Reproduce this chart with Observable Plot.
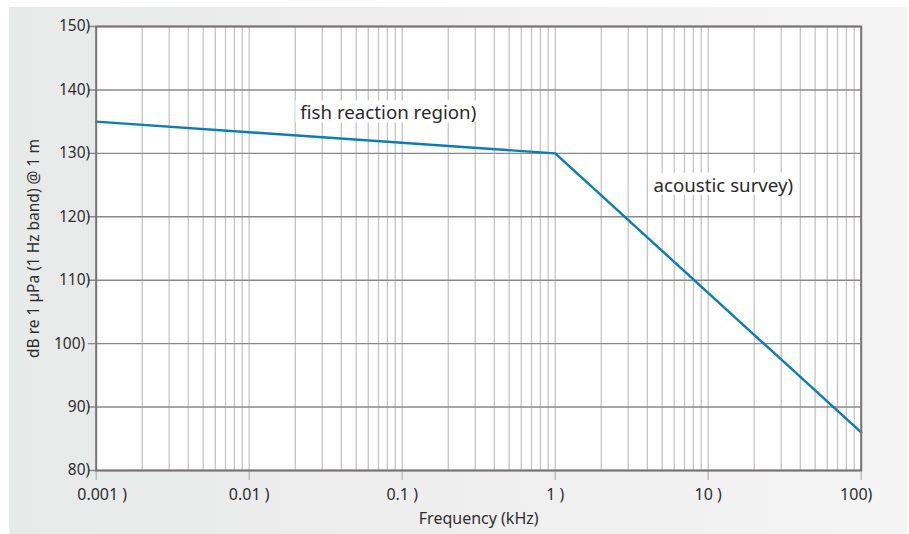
<!DOCTYPE html>
<html>
<head>
<meta charset="utf-8">
<script src="https://cdn.jsdelivr.net/npm/d3@7"></script>
<script src="https://cdn.jsdelivr.net/npm/@observablehq/plot@0.6"></script>
<style>
  html, body { margin: 0; padding: 0; background: #ffffff; }
  #wrap { position: relative; width: 909px; height: 534px; overflow: hidden; }
  #panel { position: absolute; left: 9px; top: 7px; width: 898px; height: 527px;
           background: linear-gradient(to right, #e8e9e9 0%, #eeeeee 45%, #f4f4f4 100%); }
  #chart { position: absolute; left: 0; top: 0; }
</style>
</head>
<body>
<div id="wrap"><div id="panel"></div><div id="chart"></div></div>
<script>
// ---- data ----
const freqTicks = [0.001, 0.01, 0.1, 1, 10, 100];
const freqTickLabels = ["0.001 )", "0.01 )", "0.1 )", "1 )", "10 )", "100)"];
const levelTicks = [80, 90, 100, 110, 120, 130, 140, 150];
const levelTickLabels = ["80)", "90)", "100)", "110)", "120)", "130)", "140)", "150)"];
const curveFreq = [0.001, 1, 100];
const curveLevel = [135, 130, 86];
const annoText = ["fish reaction region)", "acoustic survey)"];
const annoFreq = [0.0216, 4.39];
const annoLevel = [136.3, 124.9];
const xTitle = "Frequency (kHz)";
const yTitle = "dB re 1 µPa (1 Hz band) @ 1 m";

// minor grid positions (1..9 per decade)
const minorTicks = freqTicks.slice(0, -1)
  .flatMap(d => d3.range(1, 10).map(k => d * k))
  .concat([freqTicks[freqTicks.length - 1]]);

const curve = curveFreq.map((f, i) => ({f, v: curveLevel[i]}));
const lastIdx = freqTickLabels.length - 1;

const svg = Plot.plot({
  width: 909,
  height: 534,
  marginLeft: 95.7,
  marginRight: 48.3,
  marginTop: 26,
  marginBottom: 64,
  style: {background: "transparent", fontFamily: "'Noto Sans', sans-serif", overflow: "visible"},
  x: {type: "log", domain: [0.001, 100], axis: null},
  y: {type: "linear", domain: [80, 150], axis: null},
  marks: [
    Plot.frame({fill: "white", stroke: null}),
    Plot.ruleX(minorTicks, {x: d => d, stroke: "#c4c4c4", strokeWidth: 1.3}),
    Plot.ruleY(levelTicks, {y: d => d, insetLeft: -8, stroke: "#8c8887", strokeWidth: 1.4}),
    Plot.ruleX(freqTicks, {x: d => d, y1: 80, y2: 80, insetBottom: -10, stroke: "#b4b4b4", strokeWidth: 1.3}),
    Plot.text(annoText, {
      x: (d, i) => annoFreq[i], y: (d, i) => annoLevel[i], text: d => d,
      textAnchor: "start", lineAnchor: "middle", fontSize: 18.7, fill: "#2a2a2a"
    }),
    Plot.line(curve, {x: "f", y: "v", stroke: "#0b7db5", strokeWidth: 2.4}),
    Plot.frame({stroke: "#787372", strokeWidth: 2}),
    Plot.text(levelTicks, {
      y: d => d, frameAnchor: "left", dx: -6, textAnchor: "end", lineAnchor: "middle",
      text: (d, i) => levelTickLabels[i], fontSize: 15.5, fill: "#2e2e2e"
    }),
    Plot.text(freqTicks, {
      x: d => d, frameAnchor: "bottom", dy: 24, textAnchor: "middle", lineAnchor: "middle",
      text: (d, i) => freqTickLabels[i], fontSize: 16, fill: "#2e2e2e"
    }),
    Plot.text([xTitle], {frameAnchor: "bottom", dy: 48, textAnchor: "middle", lineAnchor: "middle",
      text: d => d, fontSize: 16, fill: "#2e2e2e"}),
    Plot.text([yTitle], {frameAnchor: "left", dx: -62, rotate: -90, textAnchor: "middle", lineAnchor: "middle",
      text: d => d, fontSize: 15.5, fill: "#2e2e2e"})
  ]
});

document.getElementById("chart").appendChild(svg);

// nudge the outermost x tick labels inward, as in the reference
svg.querySelectorAll("text").forEach(t => {
  const s = t.textContent;
  if (s === freqTickLabels[0]) t.setAttribute("dx", "6");
  if (s === freqTickLabels[lastIdx]) t.setAttribute("dx", "-5");
});

// white boxes behind the annotation labels
svg.querySelectorAll("text").forEach(t => {
  if (!annoText.includes(t.textContent)) return;
  const b = t.getBBox();
  const r = document.createElementNS("http://www.w3.org/2000/svg", "rect");
  r.setAttribute("x", b.x - 5);
  r.setAttribute("y", b.y + 1);
  r.setAttribute("width", b.width + 8);
  r.setAttribute("height", b.height - 3);
  r.setAttribute("fill", "white");
  r.setAttribute("stroke", "none");
  const tr = t.getAttribute("transform");
  if (tr) r.setAttribute("transform", tr);
  t.parentNode.insertBefore(r, t);
});
</script>
</body>
</html>
